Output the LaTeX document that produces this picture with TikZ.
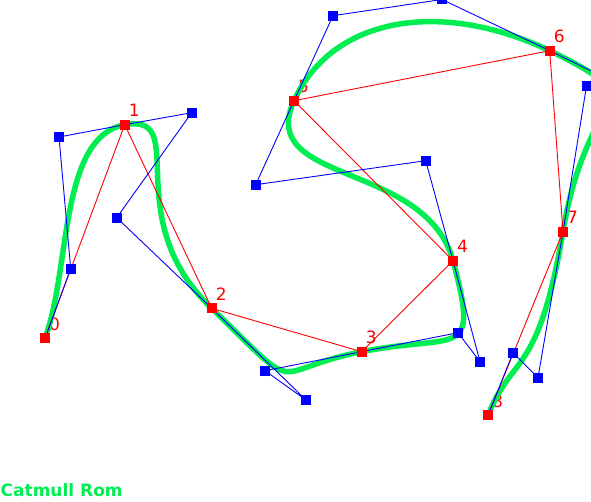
\documentclass[tikz,border=0pt]{standalone}
\usepackage{fontspec}
\setmainfont{DejaVu Sans}
\usetikzlibrary{calc}
\definecolor{crgreen}{RGB}{0,238,82}
\definecolor{ptred}{RGB}{255,0,0}
\definecolor{ctblue}{RGB}{0,0,255}
\tikzset{
  redsq/.style={fill=ptred, draw=none, minimum size=10pt, inner sep=0pt, outer sep=0pt},
  bluesq/.style={fill=ctblue, draw=none, minimum size=10pt, inner sep=0pt, outer sep=0pt},
  ptlabel/.style={text=ptred, font=\fontsize{17}{17}\selectfont, inner sep=0pt},
  redline/.style={draw=ptred, line width=0.9pt},
  blueline/.style={draw=ctblue, line width=0.9pt},
  crcurve/.style={draw=crgreen, line width=5.5pt},
  titletext/.style={text=crgreen, font=\bfseries\fontsize{17}{17}\selectfont, inner sep=0pt, anchor=base west}
}
\begin{document}
\begin{tikzpicture}[x=1pt,y=-1pt]
\useasboundingbox (0,0) rectangle (591,502);
\clip (0,0) rectangle (591,502);
% red points
\coordinate (P0) at (45,338.3);
\coordinate (P1) at (124.7,124.7);
\coordinate (P2) at (211.7,308.3);
\coordinate (P3) at (361.7,351.7);
\coordinate (P4) at (453,260.7);
\coordinate (P5) at (294,100.7);
\coordinate (P6) at (549.7,50.7);
\coordinate (P7) at (563,231.7);
\coordinate (P8) at (488,415.3);
% control points
\coordinate (A0) at (70.7,268.7);
\coordinate (B0) at (59,137);
\coordinate (A1) at (191.7,112.7);
\coordinate (B1) at (116.7,217.7);
\coordinate (A2) at (306,400);
\coordinate (B2) at (265,370.7);
\coordinate (A3) at (458,332.7);
\coordinate (B3) at (480,361.7);
\coordinate (A4) at (425.7,160.7);
\coordinate (B4) at (255.7,184.7);
\coordinate (A5) at (333,15.7);
\coordinate (B5) at (442,-0.5);
\coordinate (A6) at (657.3,103.1);
\coordinate (B6) at (586.5,86);
\coordinate (A7) at (538,377.7);
\coordinate (B7) at (513,352.7);
% labels
\foreach \i in {0,...,8}{
  \node[ptlabel] (L\i) at ($(P\i)+(9.5,-14.4)$) {\i};
}
% curve
\draw[crcurve] (P0) .. controls (A0) and (B0) .. (P1)
  .. controls (A1) and (B1) .. (P2)
  .. controls (A2) and (B2) .. (P3)
  .. controls (A3) and (B3) .. (P4)
  .. controls (A4) and (B4) .. (P5)
  .. controls (A5) and (B5) .. (P6)
  .. controls (A6) and (B6) .. (P7)
  .. controls (A7) and (B7) .. (P8);
% red polygon
\draw[redline] (P0) -- (P1) -- (P2) -- (P3) -- (P4) -- (P5) -- (P6) -- (P7) -- (P8);
% blue control polygons
\foreach \i [count=\j from 1] in {0,...,7}{
  \draw[blueline] (P\i) -- (A\i) -- (B\i) -- (P\j);
}
% squares
\foreach \i in {0,...,7}{
  \node[bluesq] (SA\i) at (A\i) {};
  \node[bluesq] (SB\i) at (B\i) {};
}
\foreach \i in {0,...,8}{
  \node[redsq] (S\i) at (P\i) {};
}
\node[titletext] (title) at (0.5,496.7) {Catmull Rom};
\end{tikzpicture}
\end{document}
